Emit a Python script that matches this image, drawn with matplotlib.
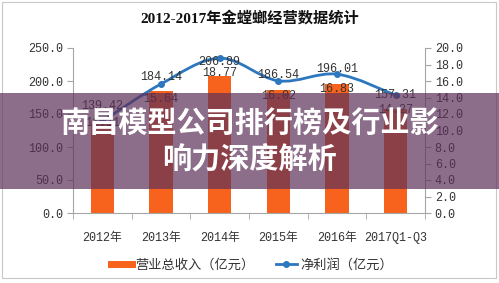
import numpy as np
import matplotlib
matplotlib.use('Agg')
import matplotlib.pyplot as plt
from matplotlib.path import Path
from matplotlib.patches import PathPatch, Rectangle
from matplotlib.lines import Line2D
from matplotlib.font_manager import FontProperties

years = ['2012年', '2013年', '2014年', '2015年', '2016年', '2017Q1-Q3']
revenue = [139.42, 184.14, 206.89, 186.54, 196.01, 157.31]   # 营业总收入（亿元）
profit = [11.11, 15.64, 18.77, 16.02, 16.83, 14.27]          # 净利润（亿元）
left_ticks = [0, 50, 100, 150, 200, 250]
right_ticks = [0, 2, 4, 6, 8, 10, 12, 14, 16, 18, 20]

NUM = ['Liberation Mono', 'Noto Sans CJK SC']
CJK = ['Noto Sans CJK SC', 'DejaVu Sans']
orange = '#F7631C'
blue = '#2C77BE'
gray = '#A6A6A6'
txt = '#333333'

fig = plt.figure(figsize=(4.99, 2.83), dpi=100)
W, H = 499, 283
ax = fig.add_axes([73 / W, 1 - 213 / H, 352 / W, 165 / H])
x = np.arange(len(years))

ax.bar(x, revenue, width=0.4, color=orange, zorder=2)
ax.set_xlim(-0.5, len(years) - 0.5)
ax.set_ylim(0, 250)
ax.set_yticks(left_ticks)
ax.set_yticklabels([f'{v:.1f}' for v in left_ticks], family=NUM, fontsize=8.5, color=txt)
ax.set_xticks(x)
ax.set_xticklabels(years, family=NUM, fontsize=8.5, color=txt)
ax.set_xticks(np.arange(-0.5, len(years), 1), minor=True)
ax.tick_params(axis='x', which='major', length=0, pad=14)
ax.tick_params(axis='x', which='minor', length=4, color=gray)
ax.tick_params(axis='y', length=4, color=gray, pad=3)
for s in ['top', 'right']:
    ax.spines[s].set_visible(False)
for s in ['left', 'bottom']:
    ax.spines[s].set_color(gray)

ax2 = ax.twinx()
ax2.set_ylim(0, 20)
ax2.set_yticks(right_ticks)
ax2.set_yticklabels([f'{v:.1f}' for v in right_ticks], family=NUM, fontsize=8.5, color=txt)
ax2.tick_params(axis='y', length=4, color=gray, pad=3)
for s in ['top', 'left', 'bottom']:
    ax2.spines[s].set_visible(False)
ax2.spines['right'].set_color(gray)

# smoothed net profit line (Catmull-Rom as Bezier segments)
pts = np.column_stack([x, profit]).astype(float)
n = len(pts)
verts = [pts[0]]
codes = [Path.MOVETO]
for i in range(n - 1):
    p0 = pts[max(i - 1, 0)]
    p1 = pts[i]
    p2 = pts[i + 1]
    p3 = pts[min(i + 2, n - 1)]
    verts += [p1 + (p2 - p0) / 6, p2 - (p3 - p1) / 6, p2]
    codes += [Path.CURVE4] * 3
ax2.add_patch(PathPatch(Path(verts, codes), fill=False, edgecolor=blue, lw=2, zorder=3))
ax2.plot(x, profit, 'o', ms=4, color=blue, zorder=4)

# value labels
for xi, v in zip(x, revenue):
    ax2.annotate(f'{v:.2f}', xy=(xi, v), xycoords=ax.transData, xytext=(0, 10.5),
                 textcoords='offset points', ha='center', va='center',
                 family=NUM, fontsize=8.5, color=txt, zorder=5)
profit_offsets = [-1, -11, -11, -11, -11, -10.5]
for xi, v, off in zip(x, profit, profit_offsets):
    ax2.annotate(f'{v:.2f}', xy=(xi, v), xytext=(0, off),
                 textcoords='offset points', ha='center', va='center',
                 family=NUM, fontsize=8.5, color=txt, zorder=5)

# title
fig.text(0.5, 1 - 18 / H, '2012-2017年金螳螂经营数据统计', ha='center', va='center',
         fontsize=11, fontweight='bold', family=['Liberation Serif', 'Noto Sans CJK SC'],
         color='#111111')

# legend
handles = [Line2D([], [], color=orange, lw=5),
           Line2D([], [], color=blue, lw=2, marker='o', ms=4)]
fig.legend(handles, ['营业总收入（亿元）', '净利润（亿元）'], loc='center',
           bbox_to_anchor=(0.505, 1 - 265 / H), ncol=2, frameon=False,
           prop=FontProperties(family=CJK, size=9.5), handlelength=1.6,
           handletextpad=0.25, columnspacing=1.6, labelcolor=txt)

# outer frame
fig.add_artist(Rectangle((2 / W, 5 / H), 494 / W, 276 / H, transform=fig.transFigure,
                         fill=False, edgecolor='#C8C8C8', lw=0.8, zorder=1))

# overlay banner
fig.add_artist(Rectangle((0, 1 - 189 / H), 1, 96 / H, transform=fig.transFigure,
                         facecolor=(93 / 255, 48 / 255, 88 / 255), alpha=0.7,
                         edgecolor='none', zorder=10))
fig.text(0.5, 1 - 123 / H, '南昌模型公司排行榜及行业影', ha='center', va='center',
         fontsize=21, fontweight='bold', family=CJK, color='white', zorder=11)
fig.text(0.5, 1 - 160 / H, '响力深度解析', ha='center', va='center',
         fontsize=21, fontweight='bold', family=CJK, color='white', zorder=11)

fig.savefig('out.png', dpi=100)
